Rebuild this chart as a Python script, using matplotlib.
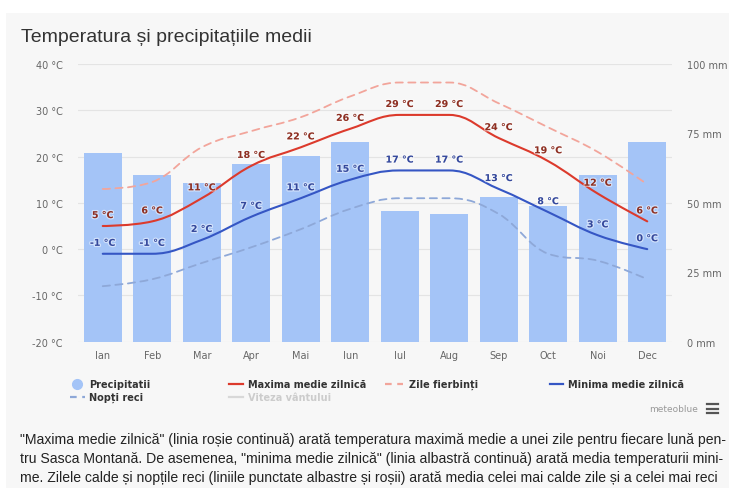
import matplotlib
matplotlib.use("Agg")
import matplotlib.pyplot as plt
import matplotlib.patheffects as pe
from matplotlib.path import Path
from matplotlib.patches import PathPatch, Rectangle
from matplotlib.lines import Line2D

# Date (Sasca Montană)
months = ["Ian", "Feb", "Mar", "Apr", "Mai", "Iun", "Iul", "Aug", "Sep", "Oct", "Noi", "Dec"]
precip_mm = [68, 60, 57, 64, 67, 72, 47, 46, 52, 49, 60, 72]
max_temp = [5, 6, 11, 18, 22, 26, 29, 29, 24, 19, 12, 6]
min_temp = [-1, -1, 2, 7, 11, 15, 17, 17, 13, 8, 3, 0]
hot_days = [13, 14.5, 22, 25.5, 28.5, 33, 36, 36, 31.5, 26.3, 21, 14]
cold_nights = [-8, -6.5, -3, 0.4, 4.3, 8.7, 11, 11, 7.6, -1, -2.5, -6.5]
temp_ticks = [-20, -10, 0, 10, 20, 30, 40]
precip_ticks = [0, 25, 50, 75, 100]

W, H = 729, 489
BAR = "#a4c4f7"
RED = "#dc3a2c"
BLUE = "#3556c4"
PINK = "#f2a59b"
LBLUE = "#8ea8d8"


def fx(px):
    return px / W


def fy(py):
    return 1 - py / H


def spline_path(xs, ys, smoothing=1.5):
    # curba tip "spline" ca in Highcharts
    n = len(xs)
    left = [None] * n
    right = [None] * n
    for i in range(n):
        x, y = xs[i], ys[i]
        if 0 < i < n - 1:
            lx, ly = xs[i - 1], ys[i - 1]
            nx, ny = xs[i + 1], ys[i + 1]
            d = smoothing + 1
            lcx, lcy = (smoothing * x + lx) / d, (smoothing * y + ly) / d
            rcx, rcy = (smoothing * x + nx) / d, (smoothing * y + ny) / d
            corr = (rcy - lcy) * (rcx - x) / (rcx - lcx) + y - rcy
            lcy += corr
            rcy += corr
            if lcy > ly and lcy > y:
                lcy = max(ly, y); rcy = 2 * y - lcy
            elif lcy < ly and lcy < y:
                lcy = min(ly, y); rcy = 2 * y - lcy
            if rcy > ny and rcy > y:
                rcy = max(ny, y); lcy = 2 * y - rcy
            elif rcy < ny and rcy < y:
                rcy = min(ny, y); lcy = 2 * y - rcy
            left[i], right[i] = (lcx, lcy), (rcx, rcy)
        else:
            left[i] = right[i] = (x, y)
    verts = [(xs[0], ys[0])]
    codes = [Path.MOVETO]
    for i in range(1, n):
        verts += [right[i - 1], left[i], (xs[i], ys[i])]
        codes += [Path.CURVE4] * 3
    return Path(verts, codes)


fig = plt.figure(figsize=(W / 100, H / 100), dpi=100, facecolor="white")
fig.add_artist(Rectangle((fx(6), 0), 1, fy(14), transform=fig.transFigure,
                         facecolor="#f7f7f7", edgecolor="none", zorder=-10))

fig.text(fx(21), fy(38), "Temperatura și precipitațiile medii", fontsize=14,
         color="#333333", va="center", ha="left",
         family=["Liberation Sans", "DejaVu Sans"])

rect = [fx(78), fy(342.7), fx(672) - fx(78), fy(65) - fy(342.7)]
x = list(range(len(months)))

# axa temperaturii (grila)
ax = fig.add_axes(rect)
ax.set_facecolor("none")
ax.set_xlim(-0.5, 11.5)
ax.set_ylim(-20, 40)
ax.set_yticks(temp_ticks)
ax.set_yticklabels([f"{t} °C" for t in temp_ticks])
ax.set_xticks(x)
ax.set_xticklabels(months)
ax.grid(axis="y", color="#e4e4e4", linewidth=0.8)
ax.set_axisbelow(True)
for s in ax.spines.values():
    s.set_visible(False)
ax.tick_params(axis="both", length=0, labelsize=7, colors="#666666")
ax.tick_params(axis="y", pad=11)
ax.tick_params(axis="x", pad=6)

# axa precipitatiilor (bare)
ax2 = ax.twinx()
ax2.set_ylim(0, 100)
ax2.set_yticks(precip_ticks)
ax2.set_yticklabels([f"{p} mm" for p in precip_ticks])
for s in ax2.spines.values():
    s.set_visible(False)
ax2.tick_params(axis="y", length=0, labelsize=7, colors="#666666", pad=11)
ax2.bar(x, precip_mm, width=0.77, color=BAR, zorder=1)

# axa de sus pentru linii
ax3 = ax.twinx()
ax3.set_ylim(-20, 40)
ax3.axis("off")

series = [
    (hot_days, PINK, 1.3, (0, (4, 3))),
    (cold_nights, LBLUE, 1.3, (0, (4, 3))),
    (max_temp, RED, 1.5, "solid"),
    (min_temp, BLUE, 1.5, "solid"),
]
for vals, col, lw, ls in series:
    ax3.add_patch(PathPatch(spline_path(x, vals), fill=False, edgecolor=col,
                            linewidth=lw, linestyle=ls, capstyle="round"))

halo = [pe.withStroke(linewidth=1.8, foreground="white", alpha=0.5)]
for vals, col in [(max_temp, "#8e2f22"), (min_temp, "#34489c")]:
    for xi, v in zip(x, vals):
        ax3.annotate(f"{v} °C", (xi, v), xytext=(0, 7.5), textcoords="offset points",
                     ha="center", va="center", fontsize=6.8, fontweight="bold",
                     color=col, path_effects=halo)

# legenda
legend_font = dict(fontsize=7, fontweight="bold", color="#333333", va="center", ha="left")


def leg_line(x0, x1, y, col, ls="-"):
    fig.add_artist(Line2D([fx(x0), fx(x1)], [fy(y), fy(y)], transform=fig.transFigure,
                          color=col, linewidth=1.6, linestyle=ls))


fig.add_artist(Line2D([fx(77)], [fy(385)], transform=fig.transFigure, marker="o",
                      markersize=7, color=BAR, linestyle="none"))
fig.text(fx(89), fy(385), "Precipitatii", **legend_font)
leg_line(229, 243, 385, RED)
fig.text(fx(248), fy(385), "Maxima medie zilnică", **legend_font)
leg_line(385, 403, 385, PINK, (0, (3, 2.5)))
fig.text(fx(409), fy(385), "Zile fierbinți", **legend_font)
leg_line(550, 563, 385, BLUE)
fig.text(fx(568), fy(385), "Minima medie zilnică", **legend_font)
leg_line(70, 85, 398, LBLUE, (0, (3, 2.5)))
fig.text(fx(89), fy(398), "Nopți reci", **legend_font)
leg_line(229, 243, 398, "#d8d8d8")
fig.text(fx(248), fy(398), "Viteza vântului", **{**legend_font, "color": "#cccccc"})

fig.text(fx(698), fy(410), "meteoblue", fontsize=6.5, color="#999999",
         ha="right", va="center")
for yy in (405, 409.5, 414):
    fig.add_artist(Line2D([fx(707), fx(718)], [fy(yy), fy(yy)], transform=fig.transFigure,
                          color="#555555", linewidth=1.6))

# paragraful de sub grafic
para = [
    "\"Maxima medie zilnică\" (linia roșie continuă) arată temperatura maximă medie a unei zile pentru fiecare lună pen-",
    "tru Sasca Montană. De asemenea, \"minima medie zilnică\" (linia albastră continuă) arată media temperaturii mini-",
    "me. Zilele calde și nopțile reci (liniile punctate albastre și roșii) arată media celei mai calde zile și a celei mai reci",
]
para_y = [440, 459, 478]
para_w = [704, 700, 700]
renderer = fig.canvas.get_renderer()
for line, yy, ww in zip(para, para_y, para_w):
    t = fig.text(fx(20), fy(yy), line, fontsize=8.5, color="#222222", va="center",
                 ha="left", family=["Liberation Sans", "DejaVu Sans"])
    for _ in range(4):
        w = t.get_window_extent(renderer).width
        t.set_fontsize(t.get_fontsize() * ww / w)

fig.savefig("out.png", dpi=100, facecolor=fig.get_facecolor())
